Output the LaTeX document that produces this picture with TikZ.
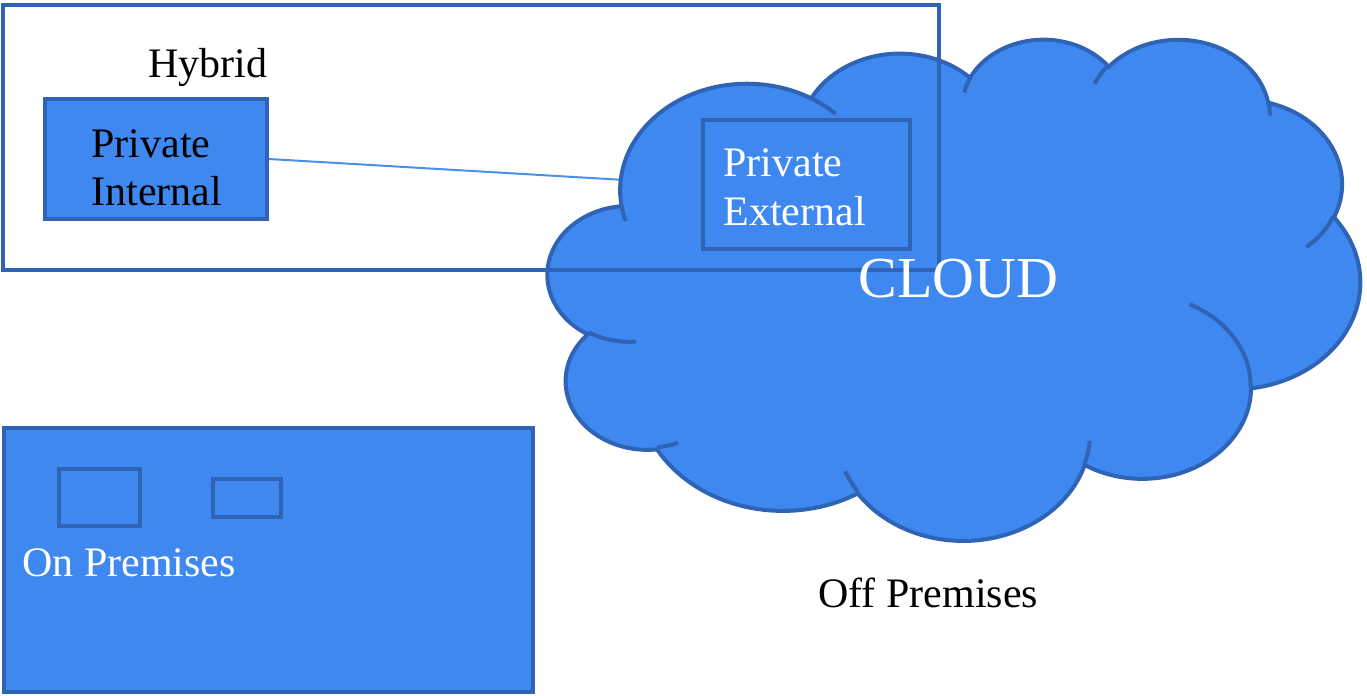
\documentclass[tikz,border=0pt]{standalone}
\usepackage{fontspec}
\setmainfont{Liberation Serif}
\usetikzlibrary{backgrounds}
\definecolor{cfill}{HTML}{3F88F0}
\definecolor{cstroke}{HTML}{2E63B5}
\definecolor{cline}{HTML}{4A8FEA}
\tikzset{
  box/.style={rectangle, draw=cstroke, fill=cfill, line width=2pt, inner sep=0pt},
  smallbox/.style={rectangle, draw=cstroke, fill=cfill, line width=1.6pt, inner sep=0pt},
  frame/.style={rectangle, draw=cstroke, line width=2pt, inner sep=0pt},
  lbl/.style={font=\fontsize{21}{25}\selectfont, inner sep=0pt, anchor=base west},
  cloudst/.style={draw=cstroke, fill=cfill, line width=2pt},
  cloudmark/.style={draw=cstroke, line width=2pt},
  conn/.style={draw=cline, line width=1pt}
}
\begin{document}
\begin{tikzpicture}[x=0.5pt, y=-0.5pt]
\useasboundingbox (0,0) rectangle (1367,696);
% cloud
\begin{scope}[shift={(548,38)}, x=0.9398pt, y=-0.5799pt]
\path[cloudst] (39.00,143.70)
  arc[start angle=-187.745, end angle=-59.64, x radius=67.53, y radius=91.90]
  arc[start angle=-152.02, end angle=-45.42, x radius=53.33, y radius=72.67]
  arc[start angle=-153.49, end angle=-37.33, x radius=43.65, y radius=59.45]
  arc[start angle=-139.69, end angle=-10.21, x radius=48.57, y radius=65.95]
  arc[start angle=-74.77, end angle=23.21, x radius=53.33, y radius=72.73]
  arc[start angle=-37.53, end angle=81.86, x radius=67.75, y radius=92.20]
  arc[start angle=0.46, end angle=121.98, x radius=57.85, y radius=78.67]
  arc[start angle=16.84, end angle=146.25, x radius=67.52, y radius=92.15]
  arc[start angle=58.99, end angle=150.20, x radius=77.20, y radius=105.43]
  arc[start angle=-276.69, end angle=-136.89, x radius=43.60, y radius=59.18]
  arc[start angle=-239.64, end angle=-95.89, x radius=43.45, y radius=59.45]
  -- cycle;
\path[cloudmark] (46.93,261.77) arc[start angle=85.55, end angle=120.36, x radius=43.45, y radius=59.45];
\path[cloudmark] (69.28,348.99) arc[start angle=68.23, end angle=83.31, x radius=43.60, y radius=59.18];
\path[cloudmark] (164.78,390.90) arc[start angle=146.25, end angle=158.47, x radius=67.52, y radius=92.15];
\path[cloudmark] (288.27,347.51) arc[start angle=4.74, end angle=16.84, x radius=67.52, y radius=92.15];
\path[cloudmark] (341.29,229.54) arc[start angle=-64.03, end angle=0.46, x radius=57.85, y radius=78.67];
\path[cloudmark] (417.98,153.54) arc[start angle=23.21, end angle=49.64, x radius=53.33, y radius=72.73];
\path[cloudmark] (383.24,54.26) arc[start angle=-10.21, end angle=0.82, x radius=48.57, y radius=65.95];
\path[cloudmark] (290.78,39.52) arc[start angle=-156.28, end angle=-139.69, x radius=48.57, y radius=65.95];
\path[cloudmark] (221.41,47.20) arc[start angle=-167.73, end angle=-153.49, x radius=43.65, y radius=59.45];
\path[cloudmark] (140.00,51.92) arc[start angle=-59.64, end angle=-45.73, x radius=67.53, y radius=91.90];
\path[cloudmark] (41.27,157.89) arc[start angle=163.19, end angle=172.26, x radius=67.53, y radius=91.90];
\end{scope}
% hybrid frame and boxes
\node[frame, minimum width=468pt, minimum height=132.5pt] (hy) at (471,137.5) {};
\node[box, minimum width=111pt, minimum height=60pt] (pi) at (156,159) {};
\node[box, minimum width=103.5pt, minimum height=64.5pt] (pe) at (806.5,184.5) {};
\node[box, minimum width=264.5pt, minimum height=132pt] (op) at (268.5,560) {};
\node[smallbox, minimum width=40.5pt, minimum height=28.5pt] (s1) at (99.5,497.5) {};
\node[smallbox, minimum width=34pt, minimum height=19pt] (s2) at (247,498) {};
\begin{pgfonlayer}{background}
\draw[conn] (pi.east) -- (pe.west);
\end{pgfonlayer}
% texts
\node[lbl] (thy) at (148,77) {Hybrid};
\node[lbl] (tpi1) at (91,157) {Private};
\node[lbl] (tpi2) at (91,205) {Internal};
\node[lbl, text=white] (tpe1) at (723,176) {Private};
\node[lbl, text=white] (tpe2) at (723,225) {External};
\node[lbl, text=white, font=\fontsize{29}{33}\selectfont] (tcl) at (858,297) {CLOUD};
\node[lbl] (toff) at (818,607) {Off Premises};
\node[lbl, text=white] (ton) at (22,576) {On Premises};
\end{tikzpicture}
\end{document}
